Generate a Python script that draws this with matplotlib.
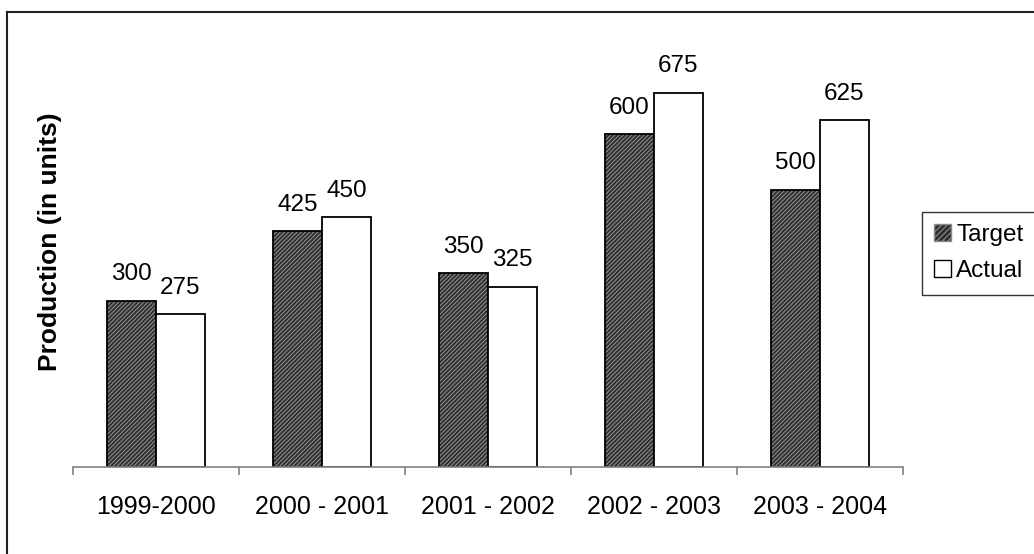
import matplotlib
matplotlib.use("Agg")
import matplotlib.pyplot as plt
from matplotlib.lines import Line2D
from matplotlib.patches import Patch
import numpy as np

plt.rcParams['font.family'] = ['Liberation Sans', 'DejaVu Sans']
plt.rcParams['hatch.linewidth'] = 0.8

years = ["1999-2000", "2000 - 2001", "2001 - 2002", "2002 - 2003", "2003 - 2004"]
target = [300, 425, 350, 600, 500]
actual = [275, 450, 325, 675, 625]

fig = plt.figure(figsize=(10.34, 5.54), dpi=100)
ax = fig.add_axes([0.0706, 0.157, 0.8027, 0.751])

x = np.arange(len(years))
w = 0.295

# dark textured fill for Target, drawn first, then the black outline on top
ax.bar(x - w / 2, target, w, facecolor='#2e2e2e', edgecolor='#8c8c8c',
       hatch='////////', linewidth=0)
b1 = ax.bar(x - w / 2, target, w, fill=False, edgecolor='black', linewidth=1.3)
b2 = ax.bar(x + w / 2, actual, w, facecolor='white', edgecolor='black',
            linewidth=1.3)
ax.bar_label(b1, labels=[str(v) for v in target], padding=11, fontsize=17.5)
ax.bar_label(b2, labels=[str(v) for v in actual], padding=11, fontsize=17.5)

ax.set_xlim(-0.5, len(years) - 0.5)
ax.set_ylim(0, 750)

# axis: only the bottom line, ticks between the groups
for s in ['top', 'right', 'left']:
    ax.spines[s].set_visible(False)
ax.spines['bottom'].set_color('#808080')
ax.spines['bottom'].set_linewidth(1.2)
ax.set_yticks([])
ax.set_xticks(x)
ax.set_xticklabels(years, fontsize=18)
ax.tick_params(axis='x', which='major', length=0, pad=20)
ax.set_xticks(np.arange(len(years) + 1) - 0.5, minor=True)
ax.tick_params(axis='x', which='minor', length=5.5, width=1.2, color='#808080')

ax.set_ylabel('Production (in units)', fontsize=19, fontweight='bold')
ax.yaxis.set_label_coords(-0.0135, 0.541)

# legend handles matching the bars
handles = [Patch(facecolor='#2e2e2e', edgecolor='#8c8c8c', hatch='//////', label='Target'),
           Patch(facecolor='white', edgecolor='black', label='Actual')]
leg = ax.legend(handles=handles, loc='center left', bbox_to_anchor=(0.892, 0.543),
                bbox_transform=fig.transFigure, fontsize=17.5, frameon=True,
                fancybox=False, edgecolor='black', handlelength=0.7,
                handleheight=0.7, handletextpad=0.2, borderpad=0.5,
                labelspacing=0.6, borderaxespad=0)
leg.get_frame().set_linewidth(1.0)

# outer chart border (top and left edges visible)
fx, fy = 7 / 1034, 1 - 12 / 554
fig.add_artist(Line2D([fx, 1.0], [fy, fy], transform=fig.transFigure, color='#222222', lw=1.5))
fig.add_artist(Line2D([fx, fx], [0.0, fy], transform=fig.transFigure, color='#222222', lw=1.5))

fig.savefig('out.png', dpi=100)
